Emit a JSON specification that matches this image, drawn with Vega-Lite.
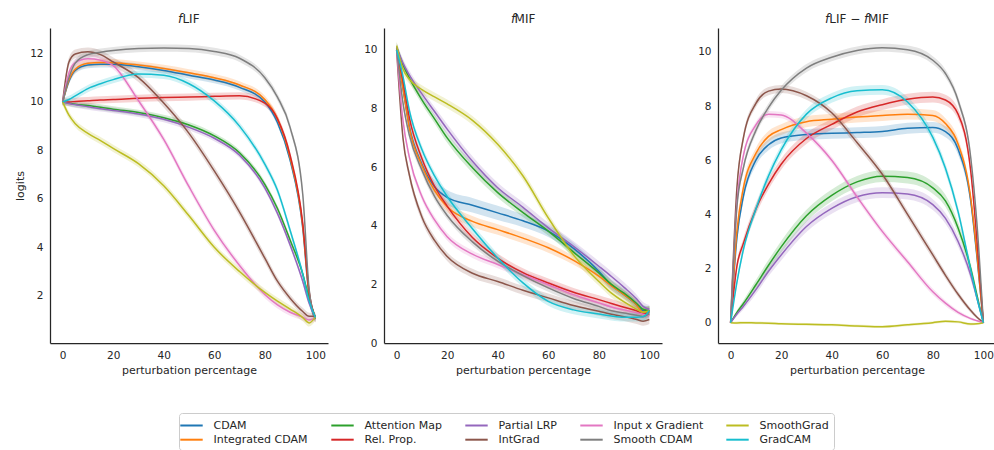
{
  "$schema": "https://vega.github.io/schema/vega-lite/v6.json",
  "padding": {"left": 14, "top": 13, "right": 0, "bottom": 0},
  "datasets": {
    "curves": [
      {"panel":"LIF","method":"CDAM","x":0,"y":10,"lo":9.87,"hi":10.13},
      {"panel":"LIF","method":"CDAM","x":2.5,"y":10.85,"lo":10.72,"hi":10.98},
      {"panel":"LIF","method":"CDAM","x":5,"y":11.3,"lo":11.17,"hi":11.43},
      {"panel":"LIF","method":"CDAM","x":10,"y":11.52,"lo":11.39,"hi":11.65},
      {"panel":"LIF","method":"CDAM","x":15,"y":11.55,"lo":11.42,"hi":11.68},
      {"panel":"LIF","method":"CDAM","x":20,"y":11.55,"lo":11.42,"hi":11.68},
      {"panel":"LIF","method":"CDAM","x":30,"y":11.45,"lo":11.32,"hi":11.58},
      {"panel":"LIF","method":"CDAM","x":40,"y":11.3,"lo":11.17,"hi":11.43},
      {"panel":"LIF","method":"CDAM","x":50,"y":11.1,"lo":10.97,"hi":11.23},
      {"panel":"LIF","method":"CDAM","x":60,"y":10.9,"lo":10.77,"hi":11.03},
      {"panel":"LIF","method":"CDAM","x":70,"y":10.6,"lo":10.47,"hi":10.73},
      {"panel":"LIF","method":"CDAM","x":80,"y":10.0,"lo":9.87,"hi":10.13},
      {"panel":"LIF","method":"CDAM","x":85,"y":9.15,"lo":9.02,"hi":9.28},
      {"panel":"LIF","method":"CDAM","x":90,"y":7.6,"lo":7.47,"hi":7.73},
      {"panel":"LIF","method":"CDAM","x":95,"y":4.8,"lo":4.67,"hi":4.93},
      {"panel":"LIF","method":"CDAM","x":97.5,"y":2.0,"lo":1.87,"hi":2.13},
      {"panel":"LIF","method":"CDAM","x":100,"y":1.05,"lo":0.92,"hi":1.18},

      {"panel":"LIF","method":"Integrated CDAM","x":0,"y":10,"lo":9.85,"hi":10.15},
      {"panel":"LIF","method":"Integrated CDAM","x":2.5,"y":10.9,"lo":10.75,"hi":11.05},
      {"panel":"LIF","method":"Integrated CDAM","x":5,"y":11.35,"lo":11.2,"hi":11.5},
      {"panel":"LIF","method":"Integrated CDAM","x":10,"y":11.6,"lo":11.45,"hi":11.75},
      {"panel":"LIF","method":"Integrated CDAM","x":15,"y":11.63,"lo":11.48,"hi":11.78},
      {"panel":"LIF","method":"Integrated CDAM","x":20,"y":11.62,"lo":11.47,"hi":11.77},
      {"panel":"LIF","method":"Integrated CDAM","x":30,"y":11.52,"lo":11.37,"hi":11.67},
      {"panel":"LIF","method":"Integrated CDAM","x":40,"y":11.38,"lo":11.23,"hi":11.53},
      {"panel":"LIF","method":"Integrated CDAM","x":50,"y":11.2,"lo":11.05,"hi":11.35},
      {"panel":"LIF","method":"Integrated CDAM","x":60,"y":11.0,"lo":10.85,"hi":11.15},
      {"panel":"LIF","method":"Integrated CDAM","x":70,"y":10.7,"lo":10.55,"hi":10.85},
      {"panel":"LIF","method":"Integrated CDAM","x":80,"y":10.1,"lo":9.95,"hi":10.25},
      {"panel":"LIF","method":"Integrated CDAM","x":85,"y":9.3,"lo":9.15,"hi":9.45},
      {"panel":"LIF","method":"Integrated CDAM","x":90,"y":7.7,"lo":7.55,"hi":7.85},
      {"panel":"LIF","method":"Integrated CDAM","x":95,"y":4.9,"lo":4.75,"hi":5.05},
      {"panel":"LIF","method":"Integrated CDAM","x":97.5,"y":2.1,"lo":1.95,"hi":2.25},
      {"panel":"LIF","method":"Integrated CDAM","x":100,"y":1.05,"lo":0.9,"hi":1.2},

      {"panel":"LIF","method":"Attention Map","x":0,"y":10,"lo":9.88,"hi":10.12},
      {"panel":"LIF","method":"Attention Map","x":2.5,"y":9.95,"lo":9.83,"hi":10.07},
      {"panel":"LIF","method":"Attention Map","x":5,"y":9.9,"lo":9.78,"hi":10.02},
      {"panel":"LIF","method":"Attention Map","x":10,"y":9.85,"lo":9.73,"hi":9.97},
      {"panel":"LIF","method":"Attention Map","x":15,"y":9.78,"lo":9.66,"hi":9.9},
      {"panel":"LIF","method":"Attention Map","x":20,"y":9.7,"lo":9.58,"hi":9.82},
      {"panel":"LIF","method":"Attention Map","x":30,"y":9.56,"lo":9.44,"hi":9.68},
      {"panel":"LIF","method":"Attention Map","x":40,"y":9.35,"lo":9.23,"hi":9.47},
      {"panel":"LIF","method":"Attention Map","x":50,"y":9.05,"lo":8.93,"hi":9.17},
      {"panel":"LIF","method":"Attention Map","x":60,"y":8.6,"lo":8.48,"hi":8.72},
      {"panel":"LIF","method":"Attention Map","x":70,"y":7.9,"lo":7.78,"hi":8.02},
      {"panel":"LIF","method":"Attention Map","x":80,"y":6.6,"lo":6.48,"hi":6.72},
      {"panel":"LIF","method":"Attention Map","x":85,"y":5.6,"lo":5.48,"hi":5.72},
      {"panel":"LIF","method":"Attention Map","x":90,"y":4.3,"lo":4.18,"hi":4.42},
      {"panel":"LIF","method":"Attention Map","x":95,"y":2.9,"lo":2.78,"hi":3.02},
      {"panel":"LIF","method":"Attention Map","x":97.5,"y":1.9,"lo":1.78,"hi":2.02},
      {"panel":"LIF","method":"Attention Map","x":100,"y":1.1,"lo":0.98,"hi":1.22},

      {"panel":"LIF","method":"Rel. Prop.","x":0,"y":10,"lo":9.85,"hi":10.15},
      {"panel":"LIF","method":"Rel. Prop.","x":2.5,"y":10.0,"lo":9.85,"hi":10.15},
      {"panel":"LIF","method":"Rel. Prop.","x":5,"y":10.02,"lo":9.87,"hi":10.17},
      {"panel":"LIF","method":"Rel. Prop.","x":10,"y":10.05,"lo":9.9,"hi":10.2},
      {"panel":"LIF","method":"Rel. Prop.","x":15,"y":10.08,"lo":9.93,"hi":10.23},
      {"panel":"LIF","method":"Rel. Prop.","x":20,"y":10.1,"lo":9.95,"hi":10.25},
      {"panel":"LIF","method":"Rel. Prop.","x":30,"y":10.15,"lo":10.0,"hi":10.3},
      {"panel":"LIF","method":"Rel. Prop.","x":40,"y":10.18,"lo":10.03,"hi":10.33},
      {"panel":"LIF","method":"Rel. Prop.","x":50,"y":10.2,"lo":10.05,"hi":10.35},
      {"panel":"LIF","method":"Rel. Prop.","x":60,"y":10.23,"lo":10.08,"hi":10.38},
      {"panel":"LIF","method":"Rel. Prop.","x":70,"y":10.25,"lo":10.1,"hi":10.4},
      {"panel":"LIF","method":"Rel. Prop.","x":80,"y":9.95,"lo":9.8,"hi":10.1},
      {"panel":"LIF","method":"Rel. Prop.","x":85,"y":9.3,"lo":9.15,"hi":9.45},
      {"panel":"LIF","method":"Rel. Prop.","x":90,"y":7.8,"lo":7.65,"hi":7.95},
      {"panel":"LIF","method":"Rel. Prop.","x":95,"y":5.0,"lo":4.85,"hi":5.15},
      {"panel":"LIF","method":"Rel. Prop.","x":97.5,"y":2.2,"lo":2.05,"hi":2.35},
      {"panel":"LIF","method":"Rel. Prop.","x":100,"y":1.05,"lo":0.9,"hi":1.2},

      {"panel":"LIF","method":"Partial LRP","x":0,"y":10,"lo":9.88,"hi":10.12},
      {"panel":"LIF","method":"Partial LRP","x":2.5,"y":9.93,"lo":9.81,"hi":10.05},
      {"panel":"LIF","method":"Partial LRP","x":5,"y":9.88,"lo":9.76,"hi":10.0},
      {"panel":"LIF","method":"Partial LRP","x":10,"y":9.8,"lo":9.68,"hi":9.92},
      {"panel":"LIF","method":"Partial LRP","x":15,"y":9.72,"lo":9.6,"hi":9.84},
      {"panel":"LIF","method":"Partial LRP","x":20,"y":9.65,"lo":9.53,"hi":9.77},
      {"panel":"LIF","method":"Partial LRP","x":30,"y":9.5,"lo":9.38,"hi":9.62},
      {"panel":"LIF","method":"Partial LRP","x":40,"y":9.28,"lo":9.16,"hi":9.4},
      {"panel":"LIF","method":"Partial LRP","x":50,"y":8.95,"lo":8.83,"hi":9.07},
      {"panel":"LIF","method":"Partial LRP","x":60,"y":8.5,"lo":8.38,"hi":8.62},
      {"panel":"LIF","method":"Partial LRP","x":70,"y":7.8,"lo":7.68,"hi":7.92},
      {"panel":"LIF","method":"Partial LRP","x":80,"y":6.45,"lo":6.33,"hi":6.57},
      {"panel":"LIF","method":"Partial LRP","x":85,"y":5.4,"lo":5.28,"hi":5.52},
      {"panel":"LIF","method":"Partial LRP","x":90,"y":4.1,"lo":3.98,"hi":4.22},
      {"panel":"LIF","method":"Partial LRP","x":95,"y":2.6,"lo":2.48,"hi":2.72},
      {"panel":"LIF","method":"Partial LRP","x":97.5,"y":1.7,"lo":1.58,"hi":1.82},
      {"panel":"LIF","method":"Partial LRP","x":100,"y":1.1,"lo":0.98,"hi":1.22},

      {"panel":"LIF","method":"IntGrad","x":0,"y":10,"lo":9.82,"hi":10.18},
      {"panel":"LIF","method":"IntGrad","x":2.5,"y":11.65,"lo":11.47,"hi":11.83},
      {"panel":"LIF","method":"IntGrad","x":5,"y":11.98,"lo":11.8,"hi":12.16},
      {"panel":"LIF","method":"IntGrad","x":10,"y":12.07,"lo":11.89,"hi":12.25},
      {"panel":"LIF","method":"IntGrad","x":15,"y":11.95,"lo":11.77,"hi":12.13},
      {"panel":"LIF","method":"IntGrad","x":20,"y":11.65,"lo":11.47,"hi":11.83},
      {"panel":"LIF","method":"IntGrad","x":30,"y":11.0,"lo":10.82,"hi":11.18},
      {"panel":"LIF","method":"IntGrad","x":40,"y":9.95,"lo":9.77,"hi":10.13},
      {"panel":"LIF","method":"IntGrad","x":50,"y":8.7,"lo":8.52,"hi":8.88},
      {"panel":"LIF","method":"IntGrad","x":60,"y":7.15,"lo":6.97,"hi":7.33},
      {"panel":"LIF","method":"IntGrad","x":70,"y":5.45,"lo":5.27,"hi":5.63},
      {"panel":"LIF","method":"IntGrad","x":80,"y":3.55,"lo":3.37,"hi":3.73},
      {"panel":"LIF","method":"IntGrad","x":85,"y":2.6,"lo":2.44,"hi":2.76},
      {"panel":"LIF","method":"IntGrad","x":90,"y":1.9,"lo":1.75,"hi":2.05},
      {"panel":"LIF","method":"IntGrad","x":95,"y":1.35,"lo":1.2,"hi":1.5},
      {"panel":"LIF","method":"IntGrad","x":97.5,"y":1.15,"lo":1.0,"hi":1.3},
      {"panel":"LIF","method":"IntGrad","x":100,"y":1.15,"lo":1.0,"hi":1.3},

      {"panel":"LIF","method":"Input x Gradient","x":0,"y":10,"lo":9.85,"hi":10.15},
      {"panel":"LIF","method":"Input x Gradient","x":2.5,"y":11.2,"lo":11.05,"hi":11.35},
      {"panel":"LIF","method":"Input x Gradient","x":5,"y":11.62,"lo":11.47,"hi":11.77},
      {"panel":"LIF","method":"Input x Gradient","x":10,"y":11.78,"lo":11.63,"hi":11.93},
      {"panel":"LIF","method":"Input x Gradient","x":15,"y":11.72,"lo":11.57,"hi":11.87},
      {"panel":"LIF","method":"Input x Gradient","x":20,"y":11.5,"lo":11.35,"hi":11.65},
      {"panel":"LIF","method":"Input x Gradient","x":30,"y":10.05,"lo":9.9,"hi":10.2},
      {"panel":"LIF","method":"Input x Gradient","x":40,"y":8.45,"lo":8.3,"hi":8.6},
      {"panel":"LIF","method":"Input x Gradient","x":50,"y":6.5,"lo":6.35,"hi":6.65},
      {"panel":"LIF","method":"Input x Gradient","x":60,"y":4.7,"lo":4.55,"hi":4.85},
      {"panel":"LIF","method":"Input x Gradient","x":70,"y":3.25,"lo":3.1,"hi":3.4},
      {"panel":"LIF","method":"Input x Gradient","x":80,"y":2.05,"lo":1.9,"hi":2.2},
      {"panel":"LIF","method":"Input x Gradient","x":85,"y":1.62,"lo":1.47,"hi":1.77},
      {"panel":"LIF","method":"Input x Gradient","x":90,"y":1.32,"lo":1.17,"hi":1.47},
      {"panel":"LIF","method":"Input x Gradient","x":95,"y":1.12,"lo":0.97,"hi":1.27},
      {"panel":"LIF","method":"Input x Gradient","x":97.5,"y":1.0,"lo":0.85,"hi":1.15},
      {"panel":"LIF","method":"Input x Gradient","x":100,"y":1.1,"lo":0.95,"hi":1.25},

      {"panel":"LIF","method":"Smooth CDAM","x":0,"y":10,"lo":9.85,"hi":10.15},
      {"panel":"LIF","method":"Smooth CDAM","x":2.5,"y":11.0,"lo":10.85,"hi":11.15},
      {"panel":"LIF","method":"Smooth CDAM","x":5,"y":11.6,"lo":11.45,"hi":11.75},
      {"panel":"LIF","method":"Smooth CDAM","x":10,"y":11.95,"lo":11.8,"hi":12.1},
      {"panel":"LIF","method":"Smooth CDAM","x":15,"y":12.05,"lo":11.9,"hi":12.2},
      {"panel":"LIF","method":"Smooth CDAM","x":20,"y":12.12,"lo":11.97,"hi":12.27},
      {"panel":"LIF","method":"Smooth CDAM","x":30,"y":12.2,"lo":12.05,"hi":12.35},
      {"panel":"LIF","method":"Smooth CDAM","x":40,"y":12.22,"lo":12.07,"hi":12.37},
      {"panel":"LIF","method":"Smooth CDAM","x":50,"y":12.2,"lo":12.05,"hi":12.35},
      {"panel":"LIF","method":"Smooth CDAM","x":60,"y":12.08,"lo":11.93,"hi":12.23},
      {"panel":"LIF","method":"Smooth CDAM","x":70,"y":11.8,"lo":11.65,"hi":11.95},
      {"panel":"LIF","method":"Smooth CDAM","x":80,"y":11.0,"lo":10.85,"hi":11.15},
      {"panel":"LIF","method":"Smooth CDAM","x":85,"y":10.2,"lo":10.05,"hi":10.35},
      {"panel":"LIF","method":"Smooth CDAM","x":90,"y":8.95,"lo":8.8,"hi":9.1},
      {"panel":"LIF","method":"Smooth CDAM","x":95,"y":6.2,"lo":6.05,"hi":6.35},
      {"panel":"LIF","method":"Smooth CDAM","x":97.5,"y":2.3,"lo":2.15,"hi":2.45},
      {"panel":"LIF","method":"Smooth CDAM","x":100,"y":1.05,"lo":0.9,"hi":1.2},

      {"panel":"LIF","method":"SmoothGrad","x":0,"y":10,"lo":9.85,"hi":10.15},
      {"panel":"LIF","method":"SmoothGrad","x":2.5,"y":9.45,"lo":9.3,"hi":9.6},
      {"panel":"LIF","method":"SmoothGrad","x":5,"y":9.1,"lo":8.95,"hi":9.25},
      {"panel":"LIF","method":"SmoothGrad","x":10,"y":8.7,"lo":8.55,"hi":8.85},
      {"panel":"LIF","method":"SmoothGrad","x":15,"y":8.4,"lo":8.25,"hi":8.55},
      {"panel":"LIF","method":"SmoothGrad","x":20,"y":8.08,"lo":7.93,"hi":8.23},
      {"panel":"LIF","method":"SmoothGrad","x":30,"y":7.45,"lo":7.3,"hi":7.6},
      {"panel":"LIF","method":"SmoothGrad","x":40,"y":6.54,"lo":6.39,"hi":6.69},
      {"panel":"LIF","method":"SmoothGrad","x":50,"y":5.3,"lo":5.15,"hi":5.45},
      {"panel":"LIF","method":"SmoothGrad","x":60,"y":4.0,"lo":3.85,"hi":4.15},
      {"panel":"LIF","method":"SmoothGrad","x":70,"y":3.0,"lo":2.85,"hi":3.15},
      {"panel":"LIF","method":"SmoothGrad","x":80,"y":2.14,"lo":1.99,"hi":2.29},
      {"panel":"LIF","method":"SmoothGrad","x":85,"y":1.78,"lo":1.63,"hi":1.93},
      {"panel":"LIF","method":"SmoothGrad","x":90,"y":1.45,"lo":1.3,"hi":1.6},
      {"panel":"LIF","method":"SmoothGrad","x":95,"y":1.1,"lo":0.95,"hi":1.25},
      {"panel":"LIF","method":"SmoothGrad","x":97.5,"y":0.88,"lo":0.73,"hi":1.03},
      {"panel":"LIF","method":"SmoothGrad","x":100,"y":1.12,"lo":0.97,"hi":1.27},

      {"panel":"LIF","method":"GradCAM","x":0,"y":10,"lo":9.85,"hi":10.15},
      {"panel":"LIF","method":"GradCAM","x":2.5,"y":10.1,"lo":9.95,"hi":10.25},
      {"panel":"LIF","method":"GradCAM","x":5,"y":10.25,"lo":10.1,"hi":10.4},
      {"panel":"LIF","method":"GradCAM","x":10,"y":10.55,"lo":10.4,"hi":10.7},
      {"panel":"LIF","method":"GradCAM","x":15,"y":10.75,"lo":10.6,"hi":10.9},
      {"panel":"LIF","method":"GradCAM","x":20,"y":10.92,"lo":10.77,"hi":11.07},
      {"panel":"LIF","method":"GradCAM","x":30,"y":11.15,"lo":11.0,"hi":11.3},
      {"panel":"LIF","method":"GradCAM","x":40,"y":11.1,"lo":10.95,"hi":11.25},
      {"panel":"LIF","method":"GradCAM","x":50,"y":10.75,"lo":10.6,"hi":10.9},
      {"panel":"LIF","method":"GradCAM","x":60,"y":10.04,"lo":9.89,"hi":10.19},
      {"panel":"LIF","method":"GradCAM","x":70,"y":9.0,"lo":8.85,"hi":9.15},
      {"panel":"LIF","method":"GradCAM","x":80,"y":7.43,"lo":7.28,"hi":7.58},
      {"panel":"LIF","method":"GradCAM","x":85,"y":6.35,"lo":6.2,"hi":6.5},
      {"panel":"LIF","method":"GradCAM","x":90,"y":4.7,"lo":4.55,"hi":4.85},
      {"panel":"LIF","method":"GradCAM","x":95,"y":2.9,"lo":2.75,"hi":3.05},
      {"panel":"LIF","method":"GradCAM","x":97.5,"y":1.8,"lo":1.65,"hi":1.95},
      {"panel":"LIF","method":"GradCAM","x":100,"y":1.1,"lo":0.95,"hi":1.25},

      {"panel":"MIF","method":"CDAM","x":0,"y":10.0,"lo":9.85,"hi":10.15},
      {"panel":"MIF","method":"CDAM","x":2.5,"y":8.7,"lo":8.5,"hi":8.9},
      {"panel":"MIF","method":"CDAM","x":5,"y":7.4,"lo":7.2,"hi":7.6},
      {"panel":"MIF","method":"CDAM","x":10,"y":6.1,"lo":5.9,"hi":6.3},
      {"panel":"MIF","method":"CDAM","x":15,"y":5.33,"lo":5.1,"hi":5.56},
      {"panel":"MIF","method":"CDAM","x":20,"y":4.97,"lo":4.72,"hi":5.22},
      {"panel":"MIF","method":"CDAM","x":30,"y":4.7,"lo":4.45,"hi":4.95},
      {"panel":"MIF","method":"CDAM","x":40,"y":4.44,"lo":4.2,"hi":4.68},
      {"panel":"MIF","method":"CDAM","x":50,"y":4.17,"lo":3.95,"hi":4.39},
      {"panel":"MIF","method":"CDAM","x":60,"y":3.82,"lo":3.62,"hi":4.02},
      {"panel":"MIF","method":"CDAM","x":70,"y":3.23,"lo":3.05,"hi":3.41},
      {"panel":"MIF","method":"CDAM","x":80,"y":2.45,"lo":2.28,"hi":2.62},
      {"panel":"MIF","method":"CDAM","x":85,"y":1.97,"lo":1.8,"hi":2.14},
      {"panel":"MIF","method":"CDAM","x":90,"y":1.65,"lo":1.5,"hi":1.8},
      {"panel":"MIF","method":"CDAM","x":95,"y":1.3,"lo":1.15,"hi":1.45},
      {"panel":"MIF","method":"CDAM","x":97.5,"y":1.1,"lo":0.95,"hi":1.25},
      {"panel":"MIF","method":"CDAM","x":100,"y":1.1,"lo":0.95,"hi":1.25},

      {"panel":"MIF","method":"Integrated CDAM","x":0,"y":10.0,"lo":9.85,"hi":10.15},
      {"panel":"MIF","method":"Integrated CDAM","x":2.5,"y":8.7,"lo":8.55,"hi":8.85},
      {"panel":"MIF","method":"Integrated CDAM","x":5,"y":7.35,"lo":7.2,"hi":7.5},
      {"panel":"MIF","method":"Integrated CDAM","x":10,"y":6.05,"lo":5.9,"hi":6.2},
      {"panel":"MIF","method":"Integrated CDAM","x":15,"y":5.2,"lo":5.05,"hi":5.35},
      {"panel":"MIF","method":"Integrated CDAM","x":20,"y":4.65,"lo":4.47,"hi":4.83},
      {"panel":"MIF","method":"Integrated CDAM","x":30,"y":4.15,"lo":3.97,"hi":4.33},
      {"panel":"MIF","method":"Integrated CDAM","x":40,"y":3.87,"lo":3.69,"hi":4.05},
      {"panel":"MIF","method":"Integrated CDAM","x":50,"y":3.58,"lo":3.4,"hi":3.76},
      {"panel":"MIF","method":"Integrated CDAM","x":60,"y":3.25,"lo":3.08,"hi":3.42},
      {"panel":"MIF","method":"Integrated CDAM","x":70,"y":2.82,"lo":2.67,"hi":2.97},
      {"panel":"MIF","method":"Integrated CDAM","x":80,"y":2.28,"lo":2.13,"hi":2.43},
      {"panel":"MIF","method":"Integrated CDAM","x":85,"y":1.95,"lo":1.8,"hi":2.1},
      {"panel":"MIF","method":"Integrated CDAM","x":90,"y":1.65,"lo":1.5,"hi":1.8},
      {"panel":"MIF","method":"Integrated CDAM","x":95,"y":1.3,"lo":1.15,"hi":1.45},
      {"panel":"MIF","method":"Integrated CDAM","x":97.5,"y":1.05,"lo":0.9,"hi":1.2},
      {"panel":"MIF","method":"Integrated CDAM","x":100,"y":1.1,"lo":0.95,"hi":1.25},

      {"panel":"MIF","method":"Attention Map","x":0,"y":10.1,"lo":9.95,"hi":10.25},
      {"panel":"MIF","method":"Attention Map","x":2.5,"y":9.5,"lo":9.35,"hi":9.65},
      {"panel":"MIF","method":"Attention Map","x":5,"y":9.05,"lo":8.9,"hi":9.2},
      {"panel":"MIF","method":"Attention Map","x":10,"y":8.3,"lo":8.15,"hi":8.45},
      {"panel":"MIF","method":"Attention Map","x":15,"y":7.65,"lo":7.5,"hi":7.8},
      {"panel":"MIF","method":"Attention Map","x":20,"y":7.0,"lo":6.83,"hi":7.17},
      {"panel":"MIF","method":"Attention Map","x":30,"y":5.98,"lo":5.8,"hi":6.16},
      {"panel":"MIF","method":"Attention Map","x":40,"y":5.13,"lo":4.96,"hi":5.3},
      {"panel":"MIF","method":"Attention Map","x":50,"y":4.45,"lo":4.3,"hi":4.6},
      {"panel":"MIF","method":"Attention Map","x":60,"y":3.82,"lo":3.67,"hi":3.97},
      {"panel":"MIF","method":"Attention Map","x":70,"y":3.1,"lo":2.95,"hi":3.25},
      {"panel":"MIF","method":"Attention Map","x":80,"y":2.39,"lo":2.24,"hi":2.54},
      {"panel":"MIF","method":"Attention Map","x":85,"y":2.0,"lo":1.85,"hi":2.15},
      {"panel":"MIF","method":"Attention Map","x":90,"y":1.7,"lo":1.55,"hi":1.85},
      {"panel":"MIF","method":"Attention Map","x":95,"y":1.35,"lo":1.2,"hi":1.5},
      {"panel":"MIF","method":"Attention Map","x":97.5,"y":1.15,"lo":1.0,"hi":1.3},
      {"panel":"MIF","method":"Attention Map","x":100,"y":1.1,"lo":0.95,"hi":1.25},

      {"panel":"MIF","method":"Rel. Prop.","x":0,"y":10.0,"lo":9.85,"hi":10.15},
      {"panel":"MIF","method":"Rel. Prop.","x":2.5,"y":8.95,"lo":8.8,"hi":9.1},
      {"panel":"MIF","method":"Rel. Prop.","x":5,"y":7.7,"lo":7.55,"hi":7.85},
      {"panel":"MIF","method":"Rel. Prop.","x":10,"y":6.3,"lo":6.15,"hi":6.45},
      {"panel":"MIF","method":"Rel. Prop.","x":15,"y":5.35,"lo":5.2,"hi":5.5},
      {"panel":"MIF","method":"Rel. Prop.","x":20,"y":4.67,"lo":4.52,"hi":4.82},
      {"panel":"MIF","method":"Rel. Prop.","x":30,"y":3.6,"lo":3.45,"hi":3.75},
      {"panel":"MIF","method":"Rel. Prop.","x":40,"y":2.9,"lo":2.75,"hi":3.05},
      {"panel":"MIF","method":"Rel. Prop.","x":50,"y":2.4,"lo":2.25,"hi":2.55},
      {"panel":"MIF","method":"Rel. Prop.","x":60,"y":2.05,"lo":1.9,"hi":2.2},
      {"panel":"MIF","method":"Rel. Prop.","x":70,"y":1.73,"lo":1.58,"hi":1.88},
      {"panel":"MIF","method":"Rel. Prop.","x":80,"y":1.48,"lo":1.33,"hi":1.63},
      {"panel":"MIF","method":"Rel. Prop.","x":85,"y":1.35,"lo":1.2,"hi":1.5},
      {"panel":"MIF","method":"Rel. Prop.","x":90,"y":1.22,"lo":1.07,"hi":1.37},
      {"panel":"MIF","method":"Rel. Prop.","x":95,"y":1.1,"lo":0.95,"hi":1.25},
      {"panel":"MIF","method":"Rel. Prop.","x":97.5,"y":1.0,"lo":0.85,"hi":1.15},
      {"panel":"MIF","method":"Rel. Prop.","x":100,"y":1.05,"lo":0.9,"hi":1.2},

      {"panel":"MIF","method":"Partial LRP","x":0,"y":10.1,"lo":9.95,"hi":10.25},
      {"panel":"MIF","method":"Partial LRP","x":2.5,"y":9.55,"lo":9.4,"hi":9.7},
      {"panel":"MIF","method":"Partial LRP","x":5,"y":9.15,"lo":9.0,"hi":9.3},
      {"panel":"MIF","method":"Partial LRP","x":10,"y":8.5,"lo":8.35,"hi":8.65},
      {"panel":"MIF","method":"Partial LRP","x":15,"y":7.9,"lo":7.75,"hi":8.05},
      {"panel":"MIF","method":"Partial LRP","x":20,"y":7.3,"lo":7.13,"hi":7.47},
      {"panel":"MIF","method":"Partial LRP","x":30,"y":6.2,"lo":6.03,"hi":6.37},
      {"panel":"MIF","method":"Partial LRP","x":40,"y":5.3,"lo":5.13,"hi":5.47},
      {"panel":"MIF","method":"Partial LRP","x":50,"y":4.63,"lo":4.46,"hi":4.8},
      {"panel":"MIF","method":"Partial LRP","x":60,"y":3.93,"lo":3.76,"hi":4.1},
      {"panel":"MIF","method":"Partial LRP","x":70,"y":3.3,"lo":3.13,"hi":3.47},
      {"panel":"MIF","method":"Partial LRP","x":80,"y":2.62,"lo":2.45,"hi":2.79},
      {"panel":"MIF","method":"Partial LRP","x":85,"y":2.27,"lo":2.1,"hi":2.44},
      {"panel":"MIF","method":"Partial LRP","x":90,"y":1.9,"lo":1.73,"hi":2.07},
      {"panel":"MIF","method":"Partial LRP","x":95,"y":1.5,"lo":1.35,"hi":1.65},
      {"panel":"MIF","method":"Partial LRP","x":97.5,"y":1.25,"lo":1.1,"hi":1.4},
      {"panel":"MIF","method":"Partial LRP","x":100,"y":1.15,"lo":1.0,"hi":1.3},

      {"panel":"MIF","method":"IntGrad","x":0,"y":10.0,"lo":9.85,"hi":10.15},
      {"panel":"MIF","method":"IntGrad","x":2.5,"y":7.0,"lo":6.85,"hi":7.15},
      {"panel":"MIF","method":"IntGrad","x":5,"y":5.75,"lo":5.6,"hi":5.9},
      {"panel":"MIF","method":"IntGrad","x":10,"y":4.3,"lo":4.15,"hi":4.45},
      {"panel":"MIF","method":"IntGrad","x":15,"y":3.5,"lo":3.35,"hi":3.65},
      {"panel":"MIF","method":"IntGrad","x":20,"y":2.95,"lo":2.8,"hi":3.1},
      {"panel":"MIF","method":"IntGrad","x":30,"y":2.38,"lo":2.23,"hi":2.53},
      {"panel":"MIF","method":"IntGrad","x":40,"y":2.1,"lo":1.95,"hi":2.25},
      {"panel":"MIF","method":"IntGrad","x":50,"y":1.8,"lo":1.65,"hi":1.95},
      {"panel":"MIF","method":"IntGrad","x":60,"y":1.54,"lo":1.39,"hi":1.69},
      {"panel":"MIF","method":"IntGrad","x":70,"y":1.28,"lo":1.13,"hi":1.43},
      {"panel":"MIF","method":"IntGrad","x":80,"y":1.08,"lo":0.93,"hi":1.23},
      {"panel":"MIF","method":"IntGrad","x":85,"y":0.98,"lo":0.83,"hi":1.13},
      {"panel":"MIF","method":"IntGrad","x":90,"y":0.9,"lo":0.75,"hi":1.05},
      {"panel":"MIF","method":"IntGrad","x":95,"y":0.8,"lo":0.65,"hi":0.95},
      {"panel":"MIF","method":"IntGrad","x":97.5,"y":0.74,"lo":0.59,"hi":0.89},
      {"panel":"MIF","method":"IntGrad","x":100,"y":0.8,"lo":0.65,"hi":0.95},

      {"panel":"MIF","method":"Input x Gradient","x":0,"y":10.0,"lo":9.87,"hi":10.13},
      {"panel":"MIF","method":"Input x Gradient","x":2.5,"y":7.6,"lo":7.47,"hi":7.73},
      {"panel":"MIF","method":"Input x Gradient","x":5,"y":6.35,"lo":6.22,"hi":6.48},
      {"panel":"MIF","method":"Input x Gradient","x":10,"y":5.0,"lo":4.87,"hi":5.13},
      {"panel":"MIF","method":"Input x Gradient","x":15,"y":4.2,"lo":4.07,"hi":4.33},
      {"panel":"MIF","method":"Input x Gradient","x":20,"y":3.63,"lo":3.5,"hi":3.76},
      {"panel":"MIF","method":"Input x Gradient","x":30,"y":3.03,"lo":2.9,"hi":3.16},
      {"panel":"MIF","method":"Input x Gradient","x":40,"y":2.68,"lo":2.55,"hi":2.81},
      {"panel":"MIF","method":"Input x Gradient","x":50,"y":2.33,"lo":2.2,"hi":2.46},
      {"panel":"MIF","method":"Input x Gradient","x":60,"y":1.99,"lo":1.86,"hi":2.12},
      {"panel":"MIF","method":"Input x Gradient","x":70,"y":1.65,"lo":1.52,"hi":1.78},
      {"panel":"MIF","method":"Input x Gradient","x":80,"y":1.37,"lo":1.24,"hi":1.5},
      {"panel":"MIF","method":"Input x Gradient","x":85,"y":1.23,"lo":1.1,"hi":1.36},
      {"panel":"MIF","method":"Input x Gradient","x":90,"y":1.13,"lo":1.0,"hi":1.26},
      {"panel":"MIF","method":"Input x Gradient","x":95,"y":1.03,"lo":0.9,"hi":1.16},
      {"panel":"MIF","method":"Input x Gradient","x":97.5,"y":0.98,"lo":0.85,"hi":1.11},
      {"panel":"MIF","method":"Input x Gradient","x":100,"y":0.95,"lo":0.82,"hi":1.08},

      {"panel":"MIF","method":"Smooth CDAM","x":0,"y":10.05,"lo":9.92,"hi":10.18},
      {"panel":"MIF","method":"Smooth CDAM","x":2.5,"y":8.2,"lo":8.07,"hi":8.33},
      {"panel":"MIF","method":"Smooth CDAM","x":5,"y":7.1,"lo":6.97,"hi":7.23},
      {"panel":"MIF","method":"Smooth CDAM","x":10,"y":5.9,"lo":5.77,"hi":6.03},
      {"panel":"MIF","method":"Smooth CDAM","x":15,"y":5.0,"lo":4.87,"hi":5.13},
      {"panel":"MIF","method":"Smooth CDAM","x":20,"y":4.35,"lo":4.22,"hi":4.48},
      {"panel":"MIF","method":"Smooth CDAM","x":30,"y":3.45,"lo":3.32,"hi":3.58},
      {"panel":"MIF","method":"Smooth CDAM","x":40,"y":2.79,"lo":2.66,"hi":2.92},
      {"panel":"MIF","method":"Smooth CDAM","x":50,"y":2.3,"lo":2.17,"hi":2.43},
      {"panel":"MIF","method":"Smooth CDAM","x":60,"y":1.88,"lo":1.75,"hi":2.01},
      {"panel":"MIF","method":"Smooth CDAM","x":70,"y":1.52,"lo":1.39,"hi":1.65},
      {"panel":"MIF","method":"Smooth CDAM","x":80,"y":1.25,"lo":1.12,"hi":1.38},
      {"panel":"MIF","method":"Smooth CDAM","x":85,"y":1.1,"lo":0.97,"hi":1.23},
      {"panel":"MIF","method":"Smooth CDAM","x":90,"y":1.02,"lo":0.89,"hi":1.15},
      {"panel":"MIF","method":"Smooth CDAM","x":95,"y":0.95,"lo":0.82,"hi":1.08},
      {"panel":"MIF","method":"Smooth CDAM","x":97.5,"y":0.9,"lo":0.77,"hi":1.03},
      {"panel":"MIF","method":"Smooth CDAM","x":100,"y":1.0,"lo":0.87,"hi":1.13},

      {"panel":"MIF","method":"SmoothGrad","x":0,"y":10.15,"lo":10.0,"hi":10.3},
      {"panel":"MIF","method":"SmoothGrad","x":2.5,"y":9.35,"lo":9.2,"hi":9.5},
      {"panel":"MIF","method":"SmoothGrad","x":5,"y":9.0,"lo":8.85,"hi":9.15},
      {"panel":"MIF","method":"SmoothGrad","x":10,"y":8.65,"lo":8.5,"hi":8.8},
      {"panel":"MIF","method":"SmoothGrad","x":15,"y":8.4,"lo":8.25,"hi":8.55},
      {"panel":"MIF","method":"SmoothGrad","x":20,"y":8.16,"lo":8.01,"hi":8.31},
      {"panel":"MIF","method":"SmoothGrad","x":30,"y":7.6,"lo":7.45,"hi":7.75},
      {"panel":"MIF","method":"SmoothGrad","x":40,"y":6.78,"lo":6.63,"hi":6.93},
      {"panel":"MIF","method":"SmoothGrad","x":50,"y":5.7,"lo":5.55,"hi":5.85},
      {"panel":"MIF","method":"SmoothGrad","x":60,"y":4.27,"lo":4.12,"hi":4.42},
      {"panel":"MIF","method":"SmoothGrad","x":70,"y":3.0,"lo":2.85,"hi":3.15},
      {"panel":"MIF","method":"SmoothGrad","x":80,"y":2.1,"lo":1.95,"hi":2.25},
      {"panel":"MIF","method":"SmoothGrad","x":85,"y":1.7,"lo":1.55,"hi":1.85},
      {"panel":"MIF","method":"SmoothGrad","x":90,"y":1.4,"lo":1.25,"hi":1.55},
      {"panel":"MIF","method":"SmoothGrad","x":95,"y":1.15,"lo":1.0,"hi":1.3},
      {"panel":"MIF","method":"SmoothGrad","x":97.5,"y":1.05,"lo":0.9,"hi":1.2},
      {"panel":"MIF","method":"SmoothGrad","x":100,"y":1.1,"lo":0.95,"hi":1.25},

      {"panel":"MIF","method":"GradCAM","x":0,"y":10.0,"lo":9.85,"hi":10.15},
      {"panel":"MIF","method":"GradCAM","x":2.5,"y":9.1,"lo":8.95,"hi":9.25},
      {"panel":"MIF","method":"GradCAM","x":5,"y":7.95,"lo":7.8,"hi":8.1},
      {"panel":"MIF","method":"GradCAM","x":10,"y":6.6,"lo":6.45,"hi":6.75},
      {"panel":"MIF","method":"GradCAM","x":15,"y":5.7,"lo":5.55,"hi":5.85},
      {"panel":"MIF","method":"GradCAM","x":20,"y":5.0,"lo":4.85,"hi":5.15},
      {"panel":"MIF","method":"GradCAM","x":30,"y":3.9,"lo":3.75,"hi":4.05},
      {"panel":"MIF","method":"GradCAM","x":40,"y":2.9,"lo":2.75,"hi":3.05},
      {"panel":"MIF","method":"GradCAM","x":50,"y":2.05,"lo":1.9,"hi":2.2},
      {"panel":"MIF","method":"GradCAM","x":60,"y":1.42,"lo":1.27,"hi":1.57},
      {"panel":"MIF","method":"GradCAM","x":70,"y":1.13,"lo":0.98,"hi":1.28},
      {"panel":"MIF","method":"GradCAM","x":80,"y":0.99,"lo":0.84,"hi":1.14},
      {"panel":"MIF","method":"GradCAM","x":85,"y":0.92,"lo":0.77,"hi":1.07},
      {"panel":"MIF","method":"GradCAM","x":90,"y":0.88,"lo":0.73,"hi":1.03},
      {"panel":"MIF","method":"GradCAM","x":95,"y":0.88,"lo":0.73,"hi":1.03},
      {"panel":"MIF","method":"GradCAM","x":97.5,"y":0.9,"lo":0.75,"hi":1.05},
      {"panel":"MIF","method":"GradCAM","x":100,"y":1.1,"lo":0.95,"hi":1.25},

      {"panel":"DIFF","method":"CDAM","x":0,"y":0,"lo":-0.02,"hi":0.02},
      {"panel":"DIFF","method":"CDAM","x":2.5,"y":3.15,"lo":2.95,"hi":3.35},
      {"panel":"DIFF","method":"CDAM","x":5,"y":4.65,"lo":4.45,"hi":4.85},
      {"panel":"DIFF","method":"CDAM","x":10,"y":6.0,"lo":5.8,"hi":6.2},
      {"panel":"DIFF","method":"CDAM","x":15,"y":6.57,"lo":6.37,"hi":6.77},
      {"panel":"DIFF","method":"CDAM","x":20,"y":6.82,"lo":6.62,"hi":7.02},
      {"panel":"DIFF","method":"CDAM","x":30,"y":6.95,"lo":6.75,"hi":7.15},
      {"panel":"DIFF","method":"CDAM","x":40,"y":6.99,"lo":6.79,"hi":7.19},
      {"panel":"DIFF","method":"CDAM","x":50,"y":7.02,"lo":6.82,"hi":7.22},
      {"panel":"DIFF","method":"CDAM","x":60,"y":7.06,"lo":6.86,"hi":7.26},
      {"panel":"DIFF","method":"CDAM","x":70,"y":7.18,"lo":6.98,"hi":7.38},
      {"panel":"DIFF","method":"CDAM","x":80,"y":7.21,"lo":7.01,"hi":7.41},
      {"panel":"DIFF","method":"CDAM","x":85,"y":7.05,"lo":6.85,"hi":7.25},
      {"panel":"DIFF","method":"CDAM","x":90,"y":6.4,"lo":6.2,"hi":6.6},
      {"panel":"DIFF","method":"CDAM","x":95,"y":4.5,"lo":4.3,"hi":4.7},
      {"panel":"DIFF","method":"CDAM","x":97.5,"y":2.4,"lo":2.2,"hi":2.6},
      {"panel":"DIFF","method":"CDAM","x":100,"y":0,"lo":-0.02,"hi":0.02},

      {"panel":"DIFF","method":"Integrated CDAM","x":0,"y":0,"lo":-0.02,"hi":0.02},
      {"panel":"DIFF","method":"Integrated CDAM","x":2.5,"y":3.4,"lo":3.2,"hi":3.6},
      {"panel":"DIFF","method":"Integrated CDAM","x":5,"y":4.95,"lo":4.75,"hi":5.15},
      {"panel":"DIFF","method":"Integrated CDAM","x":10,"y":6.25,"lo":6.05,"hi":6.45},
      {"panel":"DIFF","method":"Integrated CDAM","x":15,"y":6.88,"lo":6.68,"hi":7.08},
      {"panel":"DIFF","method":"Integrated CDAM","x":20,"y":7.13,"lo":6.93,"hi":7.33},
      {"panel":"DIFF","method":"Integrated CDAM","x":30,"y":7.42,"lo":7.22,"hi":7.62},
      {"panel":"DIFF","method":"Integrated CDAM","x":40,"y":7.51,"lo":7.31,"hi":7.71},
      {"panel":"DIFF","method":"Integrated CDAM","x":50,"y":7.59,"lo":7.39,"hi":7.79},
      {"panel":"DIFF","method":"Integrated CDAM","x":60,"y":7.65,"lo":7.45,"hi":7.85},
      {"panel":"DIFF","method":"Integrated CDAM","x":70,"y":7.7,"lo":7.5,"hi":7.9},
      {"panel":"DIFF","method":"Integrated CDAM","x":80,"y":7.65,"lo":7.45,"hi":7.85},
      {"panel":"DIFF","method":"Integrated CDAM","x":85,"y":7.35,"lo":7.15,"hi":7.55},
      {"panel":"DIFF","method":"Integrated CDAM","x":90,"y":6.6,"lo":6.4,"hi":6.8},
      {"panel":"DIFF","method":"Integrated CDAM","x":95,"y":4.6,"lo":4.4,"hi":4.8},
      {"panel":"DIFF","method":"Integrated CDAM","x":97.5,"y":2.5,"lo":2.3,"hi":2.7},
      {"panel":"DIFF","method":"Integrated CDAM","x":100,"y":0,"lo":-0.02,"hi":0.02},

      {"panel":"DIFF","method":"Attention Map","x":0,"y":0,"lo":-0.02,"hi":0.02},
      {"panel":"DIFF","method":"Attention Map","x":2.5,"y":0.38,"lo":0.3,"hi":0.46},
      {"panel":"DIFF","method":"Attention Map","x":5,"y":0.7,"lo":0.58,"hi":0.82},
      {"panel":"DIFF","method":"Attention Map","x":10,"y":1.4,"lo":1.22,"hi":1.58},
      {"panel":"DIFF","method":"Attention Map","x":15,"y":2.12,"lo":1.92,"hi":2.32},
      {"panel":"DIFF","method":"Attention Map","x":20,"y":2.8,"lo":2.58,"hi":3.02},
      {"panel":"DIFF","method":"Attention Map","x":30,"y":3.95,"lo":3.73,"hi":4.17},
      {"panel":"DIFF","method":"Attention Map","x":40,"y":4.7,"lo":4.48,"hi":4.92},
      {"panel":"DIFF","method":"Attention Map","x":50,"y":5.2,"lo":4.98,"hi":5.42},
      {"panel":"DIFF","method":"Attention Map","x":60,"y":5.41,"lo":5.19,"hi":5.63},
      {"panel":"DIFF","method":"Attention Map","x":70,"y":5.36,"lo":5.14,"hi":5.58},
      {"panel":"DIFF","method":"Attention Map","x":80,"y":4.98,"lo":4.76,"hi":5.2},
      {"panel":"DIFF","method":"Attention Map","x":85,"y":4.5,"lo":4.28,"hi":4.72},
      {"panel":"DIFF","method":"Attention Map","x":90,"y":3.5,"lo":3.28,"hi":3.72},
      {"panel":"DIFF","method":"Attention Map","x":95,"y":2.0,"lo":1.8,"hi":2.2},
      {"panel":"DIFF","method":"Attention Map","x":97.5,"y":1.0,"lo":0.85,"hi":1.15},
      {"panel":"DIFF","method":"Attention Map","x":100,"y":0,"lo":-0.02,"hi":0.02},

      {"panel":"DIFF","method":"Rel. Prop.","x":0,"y":0,"lo":-0.02,"hi":0.02},
      {"panel":"DIFF","method":"Rel. Prop.","x":2.5,"y":2.1,"lo":1.95,"hi":2.25},
      {"panel":"DIFF","method":"Rel. Prop.","x":5,"y":2.92,"lo":2.74,"hi":3.1},
      {"panel":"DIFF","method":"Rel. Prop.","x":10,"y":4.2,"lo":4.0,"hi":4.4},
      {"panel":"DIFF","method":"Rel. Prop.","x":15,"y":5.12,"lo":4.92,"hi":5.32},
      {"panel":"DIFF","method":"Rel. Prop.","x":20,"y":5.85,"lo":5.65,"hi":6.05},
      {"panel":"DIFF","method":"Rel. Prop.","x":30,"y":6.8,"lo":6.6,"hi":7.0},
      {"panel":"DIFF","method":"Rel. Prop.","x":40,"y":7.32,"lo":7.12,"hi":7.52},
      {"panel":"DIFF","method":"Rel. Prop.","x":50,"y":7.78,"lo":7.58,"hi":7.98},
      {"panel":"DIFF","method":"Rel. Prop.","x":60,"y":8.05,"lo":7.85,"hi":8.25},
      {"panel":"DIFF","method":"Rel. Prop.","x":70,"y":8.25,"lo":8.05,"hi":8.45},
      {"panel":"DIFF","method":"Rel. Prop.","x":80,"y":8.33,"lo":8.13,"hi":8.53},
      {"panel":"DIFF","method":"Rel. Prop.","x":85,"y":8.22,"lo":8.02,"hi":8.42},
      {"panel":"DIFF","method":"Rel. Prop.","x":90,"y":7.7,"lo":7.5,"hi":7.9},
      {"panel":"DIFF","method":"Rel. Prop.","x":95,"y":5.6,"lo":5.4,"hi":5.8},
      {"panel":"DIFF","method":"Rel. Prop.","x":97.5,"y":3.0,"lo":2.8,"hi":3.2},
      {"panel":"DIFF","method":"Rel. Prop.","x":100,"y":0,"lo":-0.02,"hi":0.02},

      {"panel":"DIFF","method":"Partial LRP","x":0,"y":0,"lo":-0.02,"hi":0.02},
      {"panel":"DIFF","method":"Partial LRP","x":2.5,"y":0.32,"lo":0.24,"hi":0.4},
      {"panel":"DIFF","method":"Partial LRP","x":5,"y":0.6,"lo":0.48,"hi":0.72},
      {"panel":"DIFF","method":"Partial LRP","x":10,"y":1.22,"lo":1.06,"hi":1.38},
      {"panel":"DIFF","method":"Partial LRP","x":15,"y":1.9,"lo":1.72,"hi":2.08},
      {"panel":"DIFF","method":"Partial LRP","x":20,"y":2.5,"lo":2.3,"hi":2.7},
      {"panel":"DIFF","method":"Partial LRP","x":30,"y":3.55,"lo":3.35,"hi":3.75},
      {"panel":"DIFF","method":"Partial LRP","x":40,"y":4.22,"lo":4.02,"hi":4.42},
      {"panel":"DIFF","method":"Partial LRP","x":50,"y":4.65,"lo":4.45,"hi":4.85},
      {"panel":"DIFF","method":"Partial LRP","x":60,"y":4.8,"lo":4.6,"hi":5.0},
      {"panel":"DIFF","method":"Partial LRP","x":70,"y":4.75,"lo":4.55,"hi":4.95},
      {"panel":"DIFF","method":"Partial LRP","x":80,"y":4.36,"lo":4.16,"hi":4.56},
      {"panel":"DIFF","method":"Partial LRP","x":85,"y":3.85,"lo":3.65,"hi":4.05},
      {"panel":"DIFF","method":"Partial LRP","x":90,"y":3.0,"lo":2.8,"hi":3.2},
      {"panel":"DIFF","method":"Partial LRP","x":95,"y":1.75,"lo":1.58,"hi":1.92},
      {"panel":"DIFF","method":"Partial LRP","x":97.5,"y":0.9,"lo":0.78,"hi":1.02},
      {"panel":"DIFF","method":"Partial LRP","x":100,"y":0,"lo":-0.02,"hi":0.02},

      {"panel":"DIFF","method":"IntGrad","x":0,"y":0,"lo":-0.02,"hi":0.02},
      {"panel":"DIFF","method":"IntGrad","x":2.5,"y":5.0,"lo":4.85,"hi":5.15},
      {"panel":"DIFF","method":"IntGrad","x":5,"y":6.8,"lo":6.65,"hi":6.95},
      {"panel":"DIFF","method":"IntGrad","x":10,"y":8.1,"lo":7.95,"hi":8.25},
      {"panel":"DIFF","method":"IntGrad","x":15,"y":8.55,"lo":8.4,"hi":8.7},
      {"panel":"DIFF","method":"IntGrad","x":20,"y":8.63,"lo":8.48,"hi":8.78},
      {"panel":"DIFF","method":"IntGrad","x":30,"y":8.38,"lo":8.23,"hi":8.53},
      {"panel":"DIFF","method":"IntGrad","x":40,"y":7.75,"lo":7.6,"hi":7.9},
      {"panel":"DIFF","method":"IntGrad","x":50,"y":6.65,"lo":6.5,"hi":6.8},
      {"panel":"DIFF","method":"IntGrad","x":60,"y":5.48,"lo":5.33,"hi":5.63},
      {"panel":"DIFF","method":"IntGrad","x":70,"y":4.0,"lo":3.85,"hi":4.15},
      {"panel":"DIFF","method":"IntGrad","x":80,"y":2.5,"lo":2.35,"hi":2.65},
      {"panel":"DIFF","method":"IntGrad","x":85,"y":1.75,"lo":1.62,"hi":1.88},
      {"panel":"DIFF","method":"IntGrad","x":90,"y":1.05,"lo":0.94,"hi":1.16},
      {"panel":"DIFF","method":"IntGrad","x":95,"y":0.45,"lo":0.37,"hi":0.53},
      {"panel":"DIFF","method":"IntGrad","x":97.5,"y":0.2,"lo":0.14,"hi":0.26},
      {"panel":"DIFF","method":"IntGrad","x":100,"y":0,"lo":-0.02,"hi":0.02},

      {"panel":"DIFF","method":"Input x Gradient","x":0,"y":0,"lo":-0.02,"hi":0.02},
      {"panel":"DIFF","method":"Input x Gradient","x":2.5,"y":4.4,"lo":4.28,"hi":4.52},
      {"panel":"DIFF","method":"Input x Gradient","x":5,"y":6.15,"lo":6.03,"hi":6.27},
      {"panel":"DIFF","method":"Input x Gradient","x":10,"y":7.3,"lo":7.18,"hi":7.42},
      {"panel":"DIFF","method":"Input x Gradient","x":15,"y":7.7,"lo":7.58,"hi":7.82},
      {"panel":"DIFF","method":"Input x Gradient","x":20,"y":7.67,"lo":7.55,"hi":7.79},
      {"panel":"DIFF","method":"Input x Gradient","x":30,"y":7.0,"lo":6.88,"hi":7.12},
      {"panel":"DIFF","method":"Input x Gradient","x":40,"y":6.0,"lo":5.88,"hi":6.12},
      {"panel":"DIFF","method":"Input x Gradient","x":50,"y":4.65,"lo":4.53,"hi":4.77},
      {"panel":"DIFF","method":"Input x Gradient","x":60,"y":3.37,"lo":3.25,"hi":3.49},
      {"panel":"DIFF","method":"Input x Gradient","x":70,"y":2.25,"lo":2.13,"hi":2.37},
      {"panel":"DIFF","method":"Input x Gradient","x":80,"y":1.14,"lo":1.02,"hi":1.26},
      {"panel":"DIFF","method":"Input x Gradient","x":85,"y":0.72,"lo":0.62,"hi":0.82},
      {"panel":"DIFF","method":"Input x Gradient","x":90,"y":0.38,"lo":0.3,"hi":0.46},
      {"panel":"DIFF","method":"Input x Gradient","x":95,"y":0.15,"lo":0.1,"hi":0.2},
      {"panel":"DIFF","method":"Input x Gradient","x":97.5,"y":0.07,"lo":0.03,"hi":0.11},
      {"panel":"DIFF","method":"Input x Gradient","x":100,"y":0,"lo":-0.02,"hi":0.02},

      {"panel":"DIFF","method":"Smooth CDAM","x":0,"y":0,"lo":-0.02,"hi":0.02},
      {"panel":"DIFF","method":"Smooth CDAM","x":2.5,"y":4.3,"lo":4.15,"hi":4.45},
      {"panel":"DIFF","method":"Smooth CDAM","x":5,"y":5.7,"lo":5.55,"hi":5.85},
      {"panel":"DIFF","method":"Smooth CDAM","x":10,"y":7.1,"lo":6.95,"hi":7.25},
      {"panel":"DIFF","method":"Smooth CDAM","x":15,"y":7.95,"lo":7.8,"hi":8.1},
      {"panel":"DIFF","method":"Smooth CDAM","x":20,"y":8.58,"lo":8.43,"hi":8.73},
      {"panel":"DIFF","method":"Smooth CDAM","x":30,"y":9.4,"lo":9.25,"hi":9.55},
      {"panel":"DIFF","method":"Smooth CDAM","x":40,"y":9.8,"lo":9.65,"hi":9.95},
      {"panel":"DIFF","method":"Smooth CDAM","x":50,"y":10.05,"lo":9.9,"hi":10.2},
      {"panel":"DIFF","method":"Smooth CDAM","x":60,"y":10.15,"lo":10.0,"hi":10.3},
      {"panel":"DIFF","method":"Smooth CDAM","x":70,"y":10.08,"lo":9.93,"hi":10.23},
      {"panel":"DIFF","method":"Smooth CDAM","x":80,"y":9.69,"lo":9.54,"hi":9.84},
      {"panel":"DIFF","method":"Smooth CDAM","x":85,"y":9.2,"lo":9.05,"hi":9.35},
      {"panel":"DIFF","method":"Smooth CDAM","x":90,"y":8.2,"lo":8.05,"hi":8.35},
      {"panel":"DIFF","method":"Smooth CDAM","x":95,"y":6.1,"lo":5.95,"hi":6.25},
      {"panel":"DIFF","method":"Smooth CDAM","x":97.5,"y":3.6,"lo":3.45,"hi":3.75},
      {"panel":"DIFF","method":"Smooth CDAM","x":100,"y":0,"lo":-0.02,"hi":0.02},

      {"panel":"DIFF","method":"SmoothGrad","x":0,"y":0,"lo":-0.02,"hi":0.02},
      {"panel":"DIFF","method":"SmoothGrad","x":2.5,"y":-0.01,"lo":-0.06,"hi":0.04},
      {"panel":"DIFF","method":"SmoothGrad","x":5,"y":0.0,"lo":-0.05,"hi":0.05},
      {"panel":"DIFF","method":"SmoothGrad","x":10,"y":-0.01,"lo":-0.06,"hi":0.04},
      {"panel":"DIFF","method":"SmoothGrad","x":15,"y":-0.02,"lo":-0.07,"hi":0.03},
      {"panel":"DIFF","method":"SmoothGrad","x":20,"y":-0.04,"lo":-0.09,"hi":0.01},
      {"panel":"DIFF","method":"SmoothGrad","x":30,"y":-0.06,"lo":-0.11,"hi":-0.01},
      {"panel":"DIFF","method":"SmoothGrad","x":40,"y":-0.08,"lo":-0.13,"hi":-0.03},
      {"panel":"DIFF","method":"SmoothGrad","x":50,"y":-0.12,"lo":-0.17,"hi":-0.07},
      {"panel":"DIFF","method":"SmoothGrad","x":60,"y":-0.15,"lo":-0.2,"hi":-0.1},
      {"panel":"DIFF","method":"SmoothGrad","x":70,"y":-0.08,"lo":-0.13,"hi":-0.03},
      {"panel":"DIFF","method":"SmoothGrad","x":80,"y":0.0,"lo":-0.05,"hi":0.05},
      {"panel":"DIFF","method":"SmoothGrad","x":85,"y":0.05,"lo":0.0,"hi":0.1},
      {"panel":"DIFF","method":"SmoothGrad","x":90,"y":0.03,"lo":-0.02,"hi":0.08},
      {"panel":"DIFF","method":"SmoothGrad","x":95,"y":-0.05,"lo":-0.1,"hi":0.0},
      {"panel":"DIFF","method":"SmoothGrad","x":97.5,"y":-0.04,"lo":-0.08,"hi":0.0},
      {"panel":"DIFF","method":"SmoothGrad","x":100,"y":0,"lo":-0.02,"hi":0.02},

      {"panel":"DIFF","method":"GradCAM","x":0,"y":0,"lo":-0.02,"hi":0.02},
      {"panel":"DIFF","method":"GradCAM","x":2.5,"y":1.5,"lo":1.38,"hi":1.62},
      {"panel":"DIFF","method":"GradCAM","x":5,"y":2.68,"lo":2.52,"hi":2.84},
      {"panel":"DIFF","method":"GradCAM","x":10,"y":4.2,"lo":4.02,"hi":4.38},
      {"panel":"DIFF","method":"GradCAM","x":15,"y":5.42,"lo":5.24,"hi":5.6},
      {"panel":"DIFF","method":"GradCAM","x":20,"y":6.38,"lo":6.2,"hi":6.56},
      {"panel":"DIFF","method":"GradCAM","x":30,"y":7.7,"lo":7.52,"hi":7.88},
      {"panel":"DIFF","method":"GradCAM","x":40,"y":8.3,"lo":8.12,"hi":8.48},
      {"panel":"DIFF","method":"GradCAM","x":50,"y":8.56,"lo":8.38,"hi":8.74},
      {"panel":"DIFF","method":"GradCAM","x":60,"y":8.6,"lo":8.42,"hi":8.78},
      {"panel":"DIFF","method":"GradCAM","x":70,"y":8.15,"lo":7.97,"hi":8.33},
      {"panel":"DIFF","method":"GradCAM","x":80,"y":6.84,"lo":6.66,"hi":7.02},
      {"panel":"DIFF","method":"GradCAM","x":85,"y":5.7,"lo":5.52,"hi":5.88},
      {"panel":"DIFF","method":"GradCAM","x":90,"y":4.1,"lo":3.92,"hi":4.28},
      {"panel":"DIFF","method":"GradCAM","x":95,"y":1.95,"lo":1.8,"hi":2.1},
      {"panel":"DIFF","method":"GradCAM","x":97.5,"y":0.9,"lo":0.8,"hi":1.0},
      {"panel":"DIFF","method":"GradCAM","x":100,"y":0,"lo":-0.02,"hi":0.02}
    ]
  },
  "data": {"name": "curves"},
  "spacing": 35,
  "resolve": {"scale": {"y": "independent", "color": "shared", "fill": "shared"}},
  "hconcat": [
    {
      "title": "𝘧LIF",
      "width": 278,
      "height": 315,
      "transform": [{"filter": "datum.panel === 'LIF'"}],
      "layer": [
        {
          "mark": {"type": "area", "opacity": 0.2, "interpolate": "monotone"},
          "encoding": {
            "x": {"field": "x", "type": "quantitative", "scale": {"domain": [-5, 105], "nice": false}, "axis": {"values": [0, 20, 40, 60, 80, 100], "title": "perturbation percentage"}},
            "y": {"field": "lo", "type": "quantitative", "scale": {"domain": [0.05, 13.05], "nice": false, "zero": false}, "axis": {"values": [2, 4, 6, 8, 10, 12], "title": "logits"}},
            "y2": {"field": "hi"},
            "fill": {"field": "method", "type": "nominal", "legend": null,
              "scale": {"domain": ["CDAM","Attention Map","Partial LRP","Input x Gradient","SmoothGrad","Integrated CDAM","Rel. Prop.","IntGrad","Smooth CDAM","GradCAM"],
                        "range": ["#1f77b4","#2ca02c","#9467bd","#e377c2","#bcbd22","#ff7f0e","#d62728","#8c564b","#7f7f7f","#17becf"]}}
          }
        },
        {
          "mark": {"type": "line", "strokeWidth": 1.5, "interpolate": "monotone"},
          "encoding": {
            "x": {"field": "x", "type": "quantitative"},
            "y": {"field": "y", "type": "quantitative"},
            "color": {"field": "method", "type": "nominal",
              "scale": {"domain": ["CDAM","Integrated CDAM","Attention Map","Rel. Prop.","Partial LRP","IntGrad","Input x Gradient","Smooth CDAM","SmoothGrad","GradCAM"],
                        "range": ["#1f77b4","#ff7f0e","#2ca02c","#d62728","#9467bd","#8c564b","#e377c2","#7f7f7f","#bcbd22","#17becf"]},
              "legend": {"orient": "none", "legendX": 129, "legendY": 385}}
          }
        }
      ]
    },
    {
      "title": "𝘧MIF",
      "width": 278,
      "height": 315,
      "transform": [{"filter": "datum.panel === 'MIF'"}],
      "layer": [
        {
          "mark": {"type": "area", "opacity": 0.2, "interpolate": "monotone"},
          "encoding": {
            "x": {"field": "x", "type": "quantitative", "scale": {"domain": [-5, 105], "nice": false}, "axis": {"values": [0, 20, 40, 60, 80, 100], "title": "perturbation percentage"}},
            "y": {"field": "lo", "type": "quantitative", "scale": {"domain": [0, 10.75], "nice": false, "zero": false}, "axis": {"values": [0, 2, 4, 6, 8, 10], "title": null}},
            "y2": {"field": "hi"},
            "fill": {"field": "method", "type": "nominal", "legend": null}
          }
        },
        {
          "mark": {"type": "line", "strokeWidth": 1.5, "interpolate": "monotone"},
          "encoding": {
            "x": {"field": "x", "type": "quantitative"},
            "y": {"field": "y", "type": "quantitative"},
            "color": {"field": "method", "type": "nominal"}
          }
        }
      ]
    },
    {
      "title": "𝘧LIF − 𝘧MIF",
      "width": 278,
      "height": 315,
      "transform": [{"filter": "datum.panel === 'DIFF'"}],
      "layer": [
        {
          "mark": {"type": "area", "opacity": 0.2, "interpolate": "monotone"},
          "encoding": {
            "x": {"field": "x", "type": "quantitative", "scale": {"domain": [-5, 105], "nice": false}, "axis": {"values": [0, 20, 40, 60, 80, 100], "title": "perturbation percentage"}},
            "y": {"field": "lo", "type": "quantitative", "scale": {"domain": [-0.75, 10.88], "nice": false, "zero": false}, "axis": {"values": [0, 2, 4, 6, 8, 10], "title": null}},
            "y2": {"field": "hi"},
            "fill": {"field": "method", "type": "nominal", "legend": null}
          }
        },
        {
          "mark": {"type": "line", "strokeWidth": 1.5, "interpolate": "monotone"},
          "encoding": {
            "x": {"field": "x", "type": "quantitative"},
            "y": {"field": "y", "type": "quantitative"},
            "color": {"field": "method", "type": "nominal"}
          }
        }
      ]
    }
  ],
  "config": {
    "font": "DejaVu Sans",
    "view": {"stroke": null},
    "axis": {"grid": false, "ticks": false, "domainColor": "#262626", "domainWidth": 1.25, "labelColor": "#262626", "labelFontSize": 10.5, "labelPadding": 7, "titleColor": "#262626", "titleFontSize": 11, "titleFontWeight": "normal", "titlePadding": 4, "labelFont": "DejaVu Sans", "titleFont": "DejaVu Sans"},
    "axisY": {"titlePadding": 4},
    "title": {"fontSize": 12, "fontWeight": "normal", "color": "#262626", "offset": 2, "font": "DejaVu Sans"},
    "legend": {"title": null, "columns": 5, "symbolType": "M-1.6,0H1.6", "symbolSize": 196, "symbolStrokeWidth": 2, "symbolOpacity": 1, "labelOffset": 14, "columnPadding": 18, "rowPadding": 1.2, "padding": 4.5, "strokeColor": "#cccccc", "cornerRadius": 3, "fillColor": "#ffffff", "labelFontSize": 11, "labelColor": "#262626", "labelFont": "DejaVu Sans"}
  }
}
